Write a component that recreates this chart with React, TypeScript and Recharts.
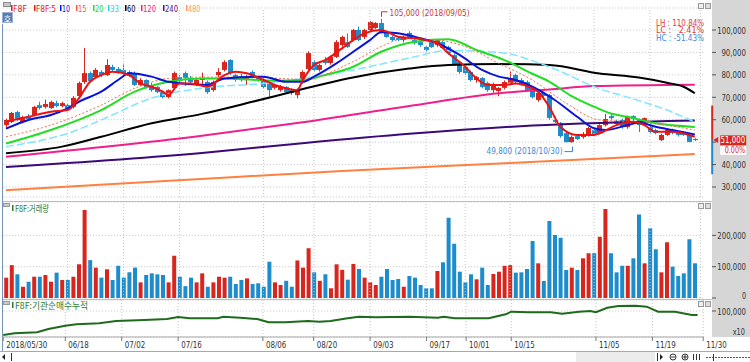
import {
  ComposedChart, Bar, Line, Cell,
  XAxis, YAxis, CartesianGrid,
  ReferenceLine, ReferenceDot, ReferenceArea,
} from "recharts";

const RED = "#d8261f";
const BLUE = "#1c8ccc";
const GRID = "#c4c4c4";
const STRIP = "#d6d6d6";
const FONT = "'DejaVu Sans', sans-serif";
const KFONT = "'Noto Sans CJK KR', sans-serif";

// ─── Data ────────────────────────────────────────────────────────────────────

const HOLIDAYS = ["2018-06-06", "2018-06-13", "2018-08-15", "2018-09-24", "2018-09-25", "2018-09-26", "2018-10-03", "2018-10-09"];

function tradingDays(from: string, to: string) {
  const out: string[] = [];
  const d = new Date(from + "T00:00:00Z");
  const end = new Date(to + "T00:00:00Z");
  while (d <= end) {
    const iso = d.toISOString().slice(0, 10);
    const wd = d.getUTCDay();
    if (wd !== 0 && wd !== 6 && !HOLIDAYS.includes(iso)) out.push(iso.replace(/-/g, "/"));
    d.setUTCDate(d.getUTCDate() + 1);
  }
  return out;
}

const DATES = tradingDays("2018-05-30", "2018-11-30");

const TICK_DATES = [
  "2018/05/30", "2018/06/18", "2018/07/02", "2018/07/16", "2018/08/06", "2018/08/20", "2018/09/03",
  "2018/09/17", "2018/10/01", "2018/10/15", "2018/11/05", "2018/11/19", "2018/11/30",
];

const OPEN = [
  57600, 59000, 63400, 59000, 61200, 62100, 66500, 65700, 65200, 67400,
  66100, 66500, 65700, 70600, 76800, 80800, 79000, 81300, 79900, 83500,
  82600, 82200, 81300, 80800, 75500, 77700, 75500, 74600, 72300, 70100,
  74100, 79000, 80800, 78600, 75500, 77700, 76800, 73200, 79900, 82200,
  86600, 79900, 79500, 77700, 81300, 79000, 77700, 75900, 74200, 73200,
  74600, 73200, 71000, 76800, 82600, 85700, 82200, 86600, 85300, 88000,
  93300, 94600, 95500, 100000, 96900, 100000, 100900, 103100, 99100, 96900,
  96400, 95500, 98700, 95500, 94600, 92400, 94600, 93300, 94600, 92400,
  88800, 85700, 83500, 81300, 77700, 78600, 76400, 73200, 72800, 74200,
  76400, 79900, 77700, 76800, 74100, 68800, 71900, 71000, 59900, 58500,
  54000, 50000, 52700, 52300, 53200, 55400, 54100, 57600, 61600, 59400,
  59900, 56700, 61600, 59900, 59400, 56700, 55400, 50900, 53200, 55400,
  54500, 54500, 53200, 51400,
];
const HIGH = [
  60500, 63500, 64000, 61800, 62500, 66200, 68000, 69000, 68500, 68500,
  68000, 67000, 70500, 77000, 92000, 81500, 83000, 82000, 87000, 84500,
  83500, 85000, 82000, 81500, 78500, 78000, 76500, 75000, 72800, 73500,
  81500, 80000, 81500, 79500, 78500, 81000, 77500, 77500, 83000, 86500,
  87000, 80500, 80500, 80000, 82000, 79500, 78500, 76500, 76000, 75500,
  75000, 74000, 74000, 82000, 90500, 86500, 85000, 88000, 88500, 95500,
  97500, 98500, 100500, 101500, 100500, 104000, 103500, 105000, 99500, 97500,
  97000, 97500, 99500, 96000, 95000, 93000, 95500, 96000, 95000, 93000,
  89500, 86000, 84000, 82000, 79500, 79000, 77000, 76500, 74500, 77500,
  81500, 80500, 78500, 77500, 74500, 72500, 72500, 71500, 61500, 59000,
  54500, 53000, 53500, 54500, 56800, 56000, 58000, 62500, 62500, 60000,
  60500, 61800, 62000, 60500, 61000, 57500, 56000, 53800, 56000, 56000,
  55000, 55000, 53800, 51800,
];
const LOW = [
  56500, 58500, 59500, 58500, 59800, 61500, 64500, 65000, 64800, 65500,
  65500, 64000, 65000, 69500, 76000, 76500, 78500, 79000, 79500, 81500,
  80500, 80500, 79000, 75000, 75000, 74000, 72500, 71800, 69500, 69500,
  73500, 76500, 75000, 76000, 75000, 76000, 71500, 72500, 79000, 81500,
  80000, 77000, 77000, 75500, 78500, 77000, 74000, 69500, 73500, 72500,
  71500, 71000, 69500, 76000, 82000, 81500, 81500, 84500, 84500, 87500,
  92500, 92000, 95000, 95000, 96000, 99500, 100500, 98500, 96500, 95000,
  95000, 94500, 96000, 93500, 92500, 90500, 92000, 92500, 91500, 89000,
  84000, 80500, 80000, 77000, 76500, 74000, 72500, 72000, 70500, 73500,
  76000, 76000, 75000, 72500, 69500, 68000, 70000, 60000, 58500, 52000,
  49900, 49800, 50900, 51500, 52500, 52800, 53500, 57000, 60000, 57500,
  56000, 56000, 59500, 54500, 58500, 54000, 53500, 50500, 52800, 53500,
  52500, 52800, 49900, 50500,
];
const CLOSE = [
  59900, 63000, 59900, 61200, 60300, 65700, 65200, 67000, 67900, 66100,
  67400, 65200, 69700, 76400, 80800, 77200, 82200, 79900, 84400, 82200,
  81300, 80800, 79500, 75500, 77700, 74600, 73200, 72300, 70100, 73200,
  80800, 77300, 78600, 76800, 77700, 78600, 72300, 76800, 81300, 85700,
  80800, 77700, 77700, 79000, 79000, 77700, 74600, 73200, 75500, 74600,
  72300, 71900, 73200, 81300, 89700, 82200, 84400, 85300, 88000, 94600,
  96900, 92400, 100000, 95500, 100000, 103600, 103100, 99100, 96900, 95500,
  95500, 96900, 96400, 94200, 93300, 91100, 92400, 95500, 92000, 89700,
  84400, 81300, 80800, 77700, 79000, 74600, 73200, 75500, 74200, 76800,
  78600, 76800, 75500, 73200, 70100, 71900, 70600, 60800, 59000, 52700,
  50000, 52300, 51400, 53600, 56300, 53600, 57600, 60300, 60700, 58100,
  56700, 61200, 60300, 57600, 60700, 54500, 54100, 53200, 55400, 54100,
  53200, 53200, 50100, 51000,
];
const VOLUME = [
  64900, 105000, 75700, 36000, 52000, 68000, 68000, 73500, 52000, 81000,
  57500, 57500, 68000, 107700, 281000, 121000, 97000, 65000, 91700, 57500,
  103000, 65000, 82000, 97000, 50000, 73500, 78800, 75700, 73500, 50000,
  135000, 68000, 38000, 65000, 50000, 78800, 36000, 50000, 68000, 65000,
  68000, 44700, 57500, 62700, 44700, 47000, 36000, 116000, 50000, 41500,
  55000, 36000, 120000, 97000, 159000, 82000, 55000, 75700, 31000, 107700,
  90000, 58600, 108800, 92800, 65000, 50000, 41500, 68000, 92700, 57500,
  60700, 36000, 70300, 65000, 41500, 31000, 31000, 86300, 114000, 256500,
  173500, 84000, 50000, 75700, 59700, 96800, 41500, 76700, 84000, 103000,
  105000, 81000, 82000, 92700, 182000, 110800, 54300, 246000, 201000, 192700,
  89500, 96800, 89500, 126800, 142800, 142800, 196000, 284000, 142800, 82000,
  103000, 103000, 126800, 267000, 110800, 222700, 155500, 82000, 178000, 100000,
  70300, 78800, 187500, 110800,
];

// moving averages as [day index, value]
const MA5 = [
  [0, 59100], [4, 61300], [8, 63600], [11, 64300], [13, 69500], [15, 76900], [17, 79900], [19, 81400],
  [22, 79900], [24, 76200], [26, 74700], [28, 72500], [29, 71000], [31, 76200], [33, 76200], [36, 74700],
  [39, 79900], [41, 81400], [43, 80700], [46, 77700], [48, 75500], [50, 74000], [52, 73200], [53, 77700],
  [55, 84400], [57, 86600], [60, 91800], [62, 95500], [64, 98500], [67, 100000], [70, 97000], [73, 96300],
  [77, 94100], [79, 89600], [82, 83600], [84, 78400], [86, 75500], [89, 75500], [91, 76200], [94, 74000],
  [95, 72500], [97, 65800], [99, 56900], [102, 53200], [105, 53200], [106, 53900], [109, 57600], [112, 59100],
  [114, 57600], [116, 54600], [119, 54600], [122, 53200], [123, 52400],
];
const MA10 = [
  [0, 56000], [4, 59900], [8, 62100], [11, 65100], [13, 68000], [17, 72500], [20, 77700], [22, 80700],
  [26, 79200], [29, 76900], [36, 75500], [39, 78400], [46, 79200], [50, 76900], [53, 76900], [55, 79200],
  [59, 85100], [62, 90300], [65, 95500], [67, 99000], [70, 98500], [74, 96300], [77, 94100], [81, 88900],
  [85, 82200], [88, 79200], [91, 77700], [94, 74700], [98, 68800], [102, 61300], [105, 56200], [107, 55400],
  [111, 57600], [113, 58700], [116, 56900], [119, 55400], [123, 53400],
];
const MA15 = [
  [0, 52400], [8, 57600], [17, 66500], [23, 74000], [29, 78400], [35, 79000], [44, 79000], [53, 78000],
  [62, 85900], [67, 92600], [71, 96000], [77, 95500], [82, 92600], [88, 85100], [94, 77700], [100, 67400],
  [106, 59900], [112, 59100], [118, 57500], [123, 55400],
];
const MA20 = [
  [0, 49400], [8, 55400], [17, 64300], [23, 72500], [29, 76900], [35, 78400], [39, 78400], [48, 77400],
  [53, 77700], [57, 79900], [62, 83600], [67, 90300], [73, 94800], [79, 95900], [84, 91100], [89, 86600],
  [94, 80500], [97, 77000], [101, 70500], [105, 65800], [108, 62800], [111, 61300], [116, 58400], [123, 56800],
];
const MA33 = [
  [0, 48000], [11, 53900], [19, 62100], [25, 68800], [35, 74100], [46, 76200], [62, 82200], [72, 87500],
  [79, 90800], [88, 90000], [97, 83600], [106, 73800], [112, 69300], [118, 64300], [123, 59000],
];
const MA60 = [
  [0, 45100], [10, 48000], [17, 52400], [26, 58400], [35, 62600], [44, 68000], [52, 73000], [61, 78400],
  [72, 82800], [79, 84400], [88, 84800], [97, 84400], [106, 80600], [113, 78800], [118, 76500], [121, 74700],
  [123, 71800],
];
const MA120 = [[0, 43500], [34, 52500], [52, 58500], [72, 66100], [88, 71800], [97, 73500], [105, 75000], [123, 75600]];
const MA240 = [[0, 38900], [35, 45200], [52, 49300], [72, 53700], [94, 57400], [123, 59700]];
const MA480 = [[0, 28600], [30, 32900], [60, 37100], [90, 40700], [123, 44700]];

// institutional net buying, cumulative (x10)
const FLOW = [
  [0, 28000], [2, 33100], [6, 36100], [8, 46000], [11, 55900], [13, 60100], [17, 63100], [20, 70000],
  [25, 73000], [29, 76000], [31, 82000], [33, 78100], [38, 78100], [39, 82900], [42, 79900], [45, 76000],
  [47, 66100], [50, 66100], [54, 70000], [56, 67900], [58, 70000], [61, 78100], [63, 82900], [66, 81100],
  [72, 82900], [77, 79900], [78, 82900], [80, 78100], [86, 78100], [89, 90100], [90, 97900], [93, 96100],
  [97, 96100], [99, 91900], [102, 97900], [104, 100000], [105, 96100], [107, 109900], [109, 115000], [112, 115900],
  [114, 112900], [116, 97900], [119, 97900], [122, 88000], [123, 88000],
];

const LIMIT_UP = 66300;
const LIMIT_DOWN = 35700;

const PRICE_TICKS = [30000, 40000, 50000, 60000, 70000, 80000, 90000, 100000];
const VOL_TICKS = [0, 100000, 200000];
const FLOW_TICKS = [100000];

// ─── Derived ─────────────────────────────────────────────────────────────────

const MAS = [
  { key: "ma480", pts: MA480, color: "#ff8040", w: 2 },
  { key: "ma240", pts: MA240, color: "#3c0a78", w: 2 },
  { key: "ma120", pts: MA120, color: "#f0208a", w: 2 },
  { key: "ma60", pts: MA60, color: "#000000", w: 2 },
  { key: "ma33", pts: MA33, color: "#7fe6ff", w: 1.5, dash: "8 3" },
  { key: "ma20", pts: MA20, color: "#22dd22", w: 2 },
  { key: "ma15", pts: MA15, color: "#ff6a4a", w: 1, dash: "2 2" },
  { key: "ma10", pts: MA10, color: "#0a14d8", w: 2 },
  { key: "ma5", pts: MA5, color: "#f01010", w: 2 },
];

const rows = DATES.map((date, i) => {
  const r: any = { date, i };
  if (i < CLOSE.length) {
    r.open = OPEN[i]; r.high = HIGH[i]; r.low = LOW[i]; r.close = CLOSE[i];
    r.volume = VOLUME[i]; r.up = CLOSE[i] >= OPEN[i];
  }
  return r;
});
for (const m of MAS) for (const [i, v] of m.pts) rows[i][m.key] = v;
for (const [i, v] of FLOW) rows[i].flow = v;

const LAST = CLOSE[CLOSE.length - 1];
const PEAK_IDX = HIGH.indexOf(Math.max(...HIGH));
const LOW_IDX = LOW.indexOf(Math.min(...LOW));
const PEAK = HIGH[PEAK_IDX];
const TROUGH = LOW[LOW_IDX];

const fmt = (v: number) => v.toLocaleString("en-US");
const pct = (v: number) => (v >= 0 ? "" : "-") + Math.abs(v * 100).toFixed(2) + "%";

// ─── Bits ────────────────────────────────────────────────────────────────────

function T({ x, y, s, fill = "#333", size = 9.5, cw = 4.1, anchor = "start", font = FONT, len }: any) {
  return (
    <text x={x} y={y} fill={fill} fontSize={size} fontFamily={font} textAnchor={anchor}
      dominantBaseline="central" textLength={len ?? s.length * cw} lengthAdjust="spacingAndGlyphs"
      style={{ whiteSpace: "pre" }}>{s}</text>
  );
}

function Candle(props: any) {
  const { x, y, width, height, payload } = props;
  if (!payload || payload.high == null) return null;
  const { open, close, high, low } = payload;
  const color = close >= open ? RED : BLUE;
  const top = Math.min(y, y + height);
  const k = Math.abs(height) / (high - low || 1);
  const b1 = top + (high - Math.max(open, close)) * k;
  const b2 = top + (high - Math.min(open, close)) * k;
  const cx = Math.round(x + width / 2) + 0.5;
  return (
    <g>
      <line x1={cx} x2={cx} y1={top} y2={top + Math.abs(height)} stroke={color} strokeWidth={1} />
      <rect x={cx - 2.5} y={b1} width={5} height={Math.max(1, b2 - b1)} fill={color} />
    </g>
  );
}

// price ticks hidden behind the last-price tag are not labelled (as in the terminal)
const AxisTick = ({ y, payload, tag }: any) => {
  const v = payload.value;
  const covered = tag && Math.abs(v - LAST) < 4000;
  const ty = v === 0 ? y - 3 : y;
  return (
    <g>
      <line x1={712} x2={716} y1={y} y2={y} stroke="#555" />
      {!covered && <T x={746} y={ty} s={fmt(v)} anchor="end" />}
    </g>
  );
};

const DateTick = ({ x, y, payload }: any) => {
  const s = payload.value === DATES[0] ? payload.value : payload.value.slice(5);
  return (
    <g>
      <line x1={x} x2={x} y1={y} y2={y + 4} stroke="#777" />
      <T x={x + 3} y={y + 8} s={s} size={9} />
    </g>
  );
};

const HighNote = ({ viewBox }: any) => {
  const cx = Math.round(viewBox.x + viewBox.width / 2) + 0.5;
  const cy = viewBox.y + viewBox.height / 2;
  return (
    <g>
      <polyline points={`${cx},${cy - 2} ${cx},${cy - 7} ${cx + 6},${cy - 7}`} fill="none" stroke="#c83a3a" />
      <T x={cx + 8} y={cy - 6} s={`${fmt(PEAK)} (${DATES[PEAK_IDX]})`} fill="#c83a3a" cw={4} />
    </g>
  );
};

const LowNote = ({ viewBox }: any) => {
  const cx = Math.round(viewBox.x + viewBox.width / 2) + 0.5;
  const cy = viewBox.y + viewBox.height / 2;
  return (
    <g>
      <polyline points={`${cx},${cy + 4} ${cx},${cy + 9} ${cx - 8},${cy + 9}`} fill="none" stroke="#3a8ad0" />
      <T x={cx - 10} y={cy + 7.5} s={`${fmt(TROUGH)} (${DATES[LOW_IDX]})`} fill="#3a8ad0" anchor="end" cw={4} />
    </g>
  );
};

const PriceTag = ({ viewBox }: any) => {
  const r = viewBox.x + viewBox.width;
  const y = viewBox.y;
  return (
    <g>
      <path d={`M${r + 10} ${y} L${r + 15} ${y - 3} L${r + 15} ${y + 3} Z`} fill={RED} />
      <rect x={r + 17} y={y - 4.5} width={26} height={10} fill={RED} />
      <T x={r + 42} y={y + 0.5} s={fmt(LAST)} fill="#fff" anchor="end" size={9} />
      <rect x={r + 17} y={y + 6} width={26} height={9} fill="#fff" />
      <T x={r + 42} y={y + 10.5} s={pct(0)} fill={RED} anchor="end" size={8.5} />
    </g>
  );
};

const limitBar = (color: string) => (p: any) =>
  <rect x={p.x + p.width + 8} y={p.y} width={2} height={p.height} fill={color} />;

const MARGIN_L = 3.2;
const AXIS_W = 46.8;

function vGrid() {
  return TICK_DATES.slice(1).map((d) => (
    <ReferenceLine key={d} x={d} stroke={GRID} strokeDasharray="1 2" />
  ));
}

// ─── Panels ──────────────────────────────────────────────────────────────────

function PricePanel() {
  return (
    <ComposedChart width={750} height={200} data={rows} margin={{ top: 8, right: 0, bottom: 3, left: MARGIN_L }}>
      <CartesianGrid vertical={false} stroke={GRID} strokeDasharray="1 2" />
      <XAxis dataKey="date" hide />
      <YAxis orientation="right" width={AXIS_W} domain={[25540, 109810]} allowDataOverflow interval={0}
        ticks={PRICE_TICKS} axisLine={false} tickLine={false} tick={<AxisTick tag />} />
      {vGrid()}
      {MAS.slice(0, 5).map((m) => (
        <Line key={m.key} dataKey={m.key} type="monotone" stroke={m.color} strokeWidth={m.w}
          strokeDasharray={m.dash} dot={false} activeDot={false} connectNulls isAnimationActive={false} />
      ))}
      <Bar dataKey={(d: any) => (d.high == null ? null : [d.low, d.high])} barSize={5}
        shape={<Candle />} isAnimationActive={false} />
      {MAS.slice(5).map((m) => (
        <Line key={m.key} dataKey={m.key} type="monotone" stroke={m.color} strokeWidth={m.w}
          strokeDasharray={m.dash} dot={false} activeDot={false} connectNulls isAnimationActive={false} />
      ))}
      <ReferenceArea y1={LAST} y2={LIMIT_UP} shape={limitBar(RED)} ifOverflow="visible" />
      <ReferenceArea y1={LIMIT_DOWN} y2={LAST} shape={limitBar(BLUE)} ifOverflow="visible" />
      <ReferenceLine y={LAST} stroke="none" label={<PriceTag />} />
      <ReferenceDot x={DATES[PEAK_IDX]} y={PEAK} r={1} fill="none" stroke="none" label={<HighNote />} />
      <ReferenceDot x={DATES[LOW_IDX]} y={TROUGH} r={1} fill="none" stroke="none" label={<LowNote />} />
    </ComposedChart>
  );
}

function VolumePanel() {
  return (
    <ComposedChart width={750} height={100} data={rows} margin={{ top: 2, right: 0, bottom: 2, left: MARGIN_L }}>
      <CartesianGrid vertical={false} stroke={GRID} strokeDasharray="1 2" />
      <XAxis dataKey="date" hide />
      <YAxis orientation="right" width={AXIS_W} domain={[0, 306700]} allowDataOverflow interval={0}
        ticks={VOL_TICKS} axisLine={false} tickLine={false} tick={<AxisTick />} />
      {vGrid()}
      <Bar dataKey="volume" barSize={4} isAnimationActive={false}>
        {rows.map((r) => <Cell key={r.date} fill={r.up ? RED : BLUE} />)}
      </Bar>
    </ComposedChart>
  );
}

function FlowPanel() {
  return (
    <ComposedChart width={750} height={53} data={rows} margin={{ top: 1, right: 0, bottom: 0, left: MARGIN_L }}>
      <CartesianGrid vertical={false} stroke={GRID} strokeDasharray="1 2" />
      <XAxis dataKey="date" ticks={TICK_DATES} interval={0} height={15} tickSize={0} tickMargin={0}
        axisLine={{ stroke: "#a8a8a8" }} tick={<DateTick />} />
      <YAxis orientation="right" width={AXIS_W} domain={[22000, 133000]} allowDataOverflow interval={0}
        ticks={FLOW_TICKS} axisLine={false} tickLine={false} tick={<AxisTick />} />
      {vGrid()}
      <Line dataKey="flow" type="linear" stroke="#1e6b1e" strokeWidth={2} dot={false} activeDot={false}
        connectNulls isAnimationActive={false} />
    </ComposedChart>
  );
}

// ─── Frame, legend, captions ─────────────────────────────────────────────────

const LEGEND = [
  ["F8F", "#e02020"], ["F8F:5", "#e02020"], ["10", "#0a14d8"], ["15", "#ff5a36"], ["20", "#22dd22"],
  ["33", "#22d8f0"], ["60", "#000000"], ["120", "#f0208a"], ["240", "#4a1488"], ["480", "#ff9966"],
];
const LEGEND_X = [13, 36, 62, 78, 95, 110, 127, 143, 165, 188];
const LEGEND_W = [14, 20, 8, 8.5, 8.5, 9, 8.5, 13, 13, 12.5];

function PanelIcons({ y }: { y: number }) {
  return (
    <g>
      <rect x={698.5} y={y + 0.5} width={5} height={5} fill="#eee" stroke="#999" />
      <rect x={705.5} y={y + 0.5} width={5} height={5} fill="#ddd" stroke="#999" />
    </g>
  );
}

function Overlay() {
  const lh = PEAK / TROUGH - 1;
  const lc = LAST / TROUGH - 1;
  const hc = LAST / PEAK - 1;
  return (
    <svg width={750} height={362} style={{ position: "absolute", left: 0, top: 0, pointerEvents: "none" }}>
      {/* panel borders */}
      <line x1={3} x2={712} y1={201.5} y2={201.5} stroke="#bdbdbd" />
      <line x1={3} x2={712} y1={299.5} y2={299.5} stroke="#bdbdbd" />
      <line x1={2.5} x2={2.5} y1={24} y2={351} stroke="#7393bd" />
      {/* top-left widgets */}
      <rect x={3.5} y={2.5} width={7} height={4} fill="#c8c8c8" stroke="#8a8a8a" />
      <rect x={2.5} y={12.5} width={10} height={10} fill="#5a7cae" stroke="#9ab0d0" />
      <text x={7.5} y={18} fontSize={8} fill="#fff" textAnchor="middle" dominantBaseline="central" fontFamily={KFONT}>호</text>
      {LEGEND.map(([s, c], k) => (
        <g key={s}>
          <rect x={LEGEND_X[k] - 2} y={5} width={1.5} height={6} fill={c} />
          <T x={LEGEND_X[k]} y={8} s={s} fill={c} len={LEGEND_W[k]} size={9.5} />
        </g>
      ))}
      <PanelIcons y={3} />
      <PanelIcons y={203} />
      <PanelIcons y={301} />
      {/* LH / LC / HC */}
      <T x={704} y={23} s={`LH : ${pct(lh).padStart(7)}`} fill="#e03a3a" anchor="end" cw={4} size={8} />
      <T x={704} y={30.5} s={`LC : ${pct(lc).padStart(7)}`} fill="#e03a3a" anchor="end" cw={4} size={8} />
      <T x={704} y={38} s={`HC : ${pct(hc).padStart(7)}`} fill="#3a8ad0" anchor="end" cw={4} size={8} />
      {/* panel titles */}
      <rect x={3.5} y={203.5} width={6} height={3} fill="#ccc" stroke="#999" />
      <rect x={12} y={205} width={1.5} height={6} fill="#2d7a2d" />
      <text x={15} y={208.5} fontSize={9} fill="#2d7a2d" fontFamily={KFONT} dominantBaseline="central"
        textLength={34} lengthAdjust="spacingAndGlyphs">F8F:거래량</text>
      <rect x={3.5} y={301.5} width={6} height={3} fill="#ccc" stroke="#999" />
      <rect x={12} y={302} width={1.5} height={6} fill="#2d7a2d" />
      <text x={15} y={305.5} fontSize={9} fill="#2d7a2d" fontFamily={KFONT} dominantBaseline="central"
        textLength={73} lengthAdjust="spacingAndGlyphs">F8F:기관순매수누적</text>
      <T x={745} y={331} s="x10" anchor="end" />
      {/* scroll bar row */}
      <line x1={0} x2={750} y1={351.5} y2={351.5} stroke="#a8a8a8" />
      <path d="M2 357 L5 354 L5 360 Z" fill="#222" />
      <line x1={11.5} x2={11.5} y1={353} y2={361} stroke="#333" />
      <rect x={576} y={352} width={79} height={10} fill="#ececec" />
      <line x1={657.5} x2={657.5} y1={353} y2={361} stroke="#333" />
      <path d="M660 354 L663 357 L660 360 Z" fill="#222" />
      <circle cx={673} cy={357} r={3} fill="none" stroke="#333" />
      <line x1={671} x2={675} y1={357} y2={357} stroke="#333" />
      <circle cx={685} cy={357} r={3} fill="none" stroke="#333" />
      <line x1={683} x2={687} y1={357} y2={357} stroke="#333" />
      <line x1={685} x2={685} y1={355} y2={359} stroke="#333" />
      <line x1={693.5} x2={693.5} y1={354} y2={360} stroke="#333" />
      <line x1={696.5} x2={696.5} y1={354} y2={360} stroke="#333" />
      <line x1={699.5} x2={699.5} y1={354} y2={360} stroke="#333" />
      <line x1={706} x2={750} y1={357.5} y2={357.5} stroke="#555" strokeDasharray="2 1" />
      <line x1={713.5} x2={713.5} y1={354} y2={361} stroke="#333" />
    </svg>
  );
}

export default function App() {
  return (
    <div style={{ position: "absolute", left: 0, top: 0, width: 750, height: 362, background: "#fff", overflow: "hidden", fontFamily: FONT }}>
      <div style={{ position: "absolute", left: 712, top: 0, width: 38, height: 337, background: STRIP }} />
      <div style={{ position: "absolute", left: 0, top: 0 }}><PricePanel /></div>
      <div style={{ position: "absolute", left: 0, top: 200 }}><VolumePanel /></div>
      <div style={{ position: "absolute", left: 0, top: 299 }}><FlowPanel /></div>
      <Overlay />
    </div>
  );
}
